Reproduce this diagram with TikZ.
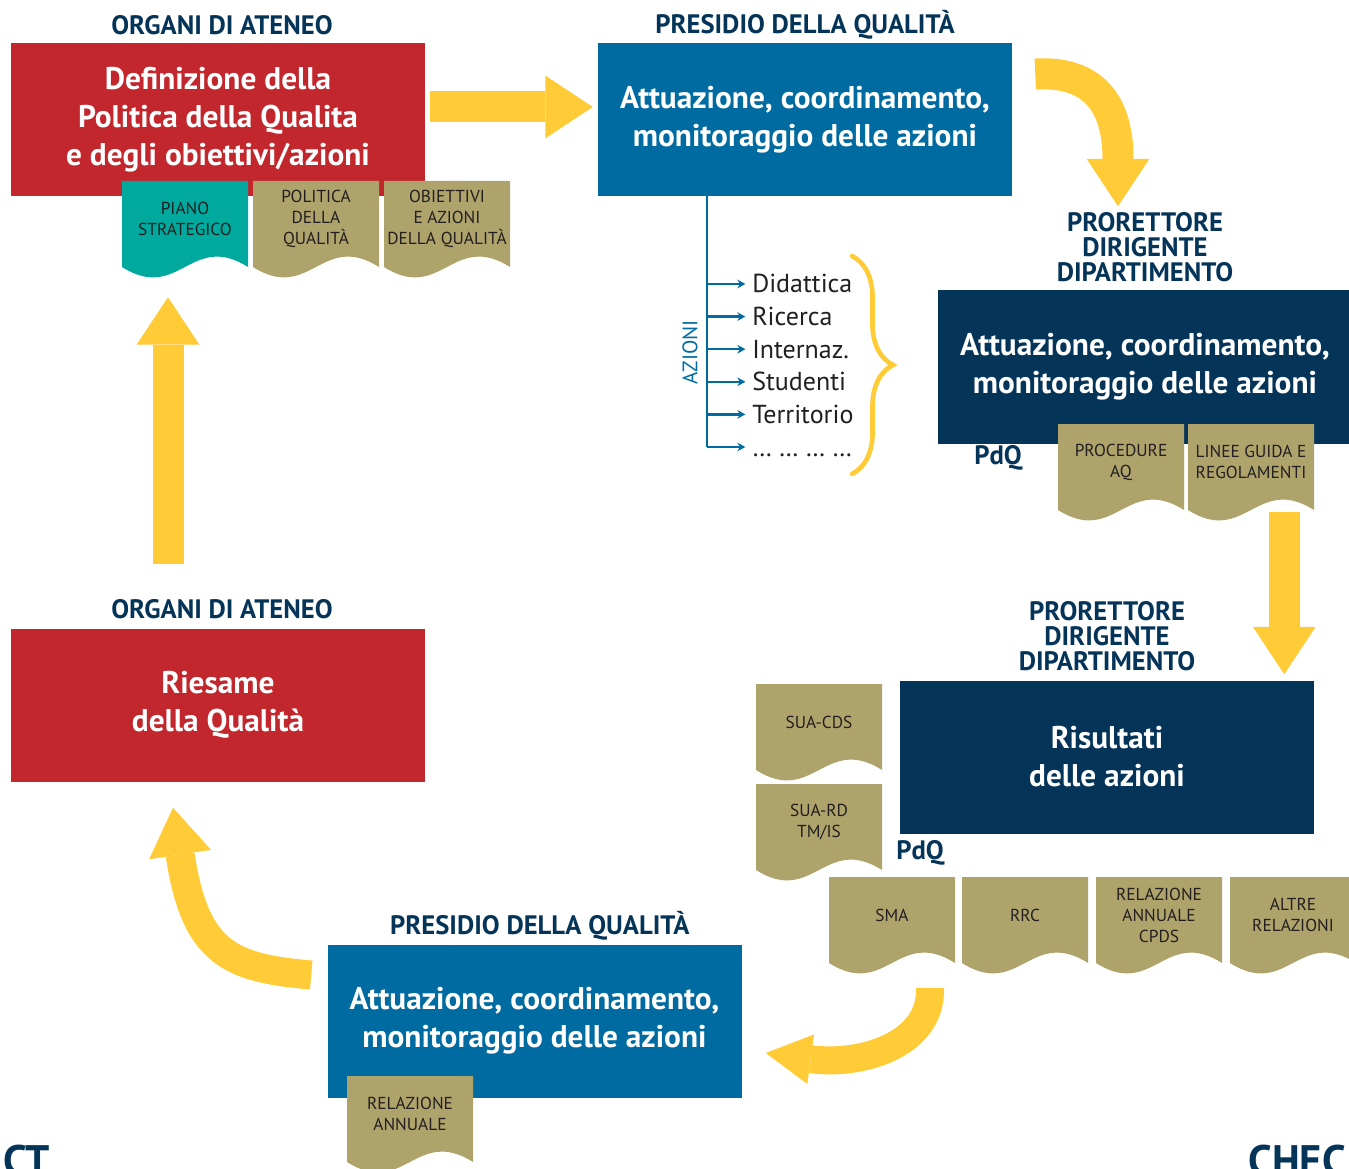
\documentclass[tikz,border=0pt]{standalone}
\usepackage{fontspec}
\setmainfont{PT Sans}
\usetikzlibrary{positioning, arrows.meta, decorations.pathreplacing}

\definecolor{aqred}{HTML}{C1272D}
\definecolor{aqblue}{HTML}{006BA0}
\definecolor{aqnavy}{HTML}{053459}
\definecolor{aqgold}{HTML}{AFA36C}
\definecolor{aqteal}{HTML}{00A99D}
\definecolor{aqyellow}{HTML}{FFCB37}
\definecolor{aqink}{HTML}{231F20}

\tikzset{
  aqbox/.style={rectangle, minimum width=310.5pt, minimum height=114.75pt, inner sep=0pt,
    text=white, align=center, font=\fontsize{23.5}{28.5}\selectfont\bfseries},
  aqhead/.style={inner sep=0pt, align=center, text=aqnavy, font=\fontsize{20}{18.75}\selectfont\bfseries},
  aqdoc/.style={inner sep=0pt, align=center, text=aqink, font=\fontsize{13}{15.75}\selectfont},
  yarrow/.style={draw=aqyellow, line width=23.25pt, -{Triangle[length=35.5pt, width=47pt, line width=0pt]}},
  yarrowsm/.style={draw=aqyellow, line width=21pt, -{Triangle[length=34pt, width=37.5pt, line width=0pt]}},
  azline/.style={draw=aqblue, line width=1.8pt},
  azlabel/.style={anchor=west, inner sep=0pt, text height=13.5pt, text depth=0pt,
    text=aqink, font=\fontsize{19.5}{24}\selectfont},
}

% document with wavy bottom: name, x, y (top left), fill, text
\newcommand{\aqdoc}[5]{%
  \fill[#4] (#2,#3) -- ({#2+126},#3) -- ({#2+126},{#3+86})
    .. controls ({#2+69},{#3+50}) and ({#2+57},{#3+122}) .. (#2,{#3+86}) -- cycle;
  \node[aqdoc] (#1) at ({#2+63},{#3+38}) {#5};
}

\begin{document}
\begin{tikzpicture}[x=0.75pt, y=-0.75pt]
  \clip (0,0) rectangle (1349,1169);

  % Plan
  \node[aqbox, fill=aqred] (def) at (218,119.5) {Definizione della\\Politica della Qualita\\e degli obiettivi/azioni};
  \node[aqhead, above=5.5pt of def, xshift=3pt] (hdef) {ORGANI DI ATENEO};
  \aqdoc{piano}{122}{181}{aqteal}{PIANO\\STRATEGICO}
  \aqdoc{politica}{253}{181}{aqgold}{POLITICA\\DELLA\\QUALITÀ}
  \aqdoc{obiettivi}{384}{181}{aqgold}{OBIETTIVI\\E AZIONI\\DELLA QUALITÀ}

  % Do (Presidio)
  \node[aqbox, fill=aqblue] (pres1) at (805,119.5) {Attuazione, coordinamento,\\monitoraggio delle azioni};
  \node[aqhead, text depth=0pt, above=6.5pt of pres1] (hpres1) {PRESIDIO DELLA QUALITÀ};

  % Azioni
  \coordinate (azroot) at ([xshift=-73.5pt]pres1.south);
  \foreach \lbl [count=\i] in {Didattica, Ricerca, Internaz., Studenti, Territorio, {… … … …}} {
    \node[azlabel] (az\i) at (752, {284+(\i-1)*32.6}) {\lbl};
  }
  \draw[azline] (azroot) -- (azroot |- az6.west);
  \foreach \i in {1,...,6}
    \draw[azline, -{Stealth[length=6pt, width=6.5pt]}] (azroot |- az\i.west) -- ([xshift=-5pt]az\i.west);
  \node[rotate=90, inner sep=0pt, text=aqblue, font=\fontsize{15.75}{18}\selectfont] (azioni) at (690,352) {AZIONI};
  \draw[aqyellow, line width=3.5pt, line cap=round, decorate, decoration={brace, amplitude=30.75pt}]
    (852,256) -- (852,474);

  % Do (Prorettore)
  \node[aqbox, fill=aqnavy] (pror1) at (1145,367) {Attuazione, coordinamento,\\monitoraggio delle azioni};
  \node[aqhead, above=6pt of pror1] (hpror1) {PRORETTORE\\DIRIGENTE\\DIPARTIMENTO};
  \node[aqhead] (pdq1) at (998,458) {PdQ};
  \aqdoc{procedure}{1058}{424}{aqgold}{PROCEDURE\\AQ}
  \aqdoc{linee}{1188}{424}{aqgold}{LINEE GUIDA E\\REGOLAMENTI}

  % Check
  \node[aqbox, fill=aqnavy] (ris) at (1107,757) {Risultati\\delle azioni};
  \node[aqhead, above=6.5pt of ris] (hris) {PRORETTORE\\DIRIGENTE\\DIPARTIMENTO};
  \node[aqhead] (pdq2) at (920,853) {PdQ};
  \aqdoc{suacds}{756}{684}{aqgold}{SUA-CDS}
  \aqdoc{suard}{756}{784}{aqgold}{SUA-RD\\TM/IS}
  \aqdoc{sma}{829}{877}{aqgold}{SMA}
  \aqdoc{rrc}{962}{877}{aqgold}{RRC}
  \aqdoc{cpds}{1096}{877}{aqgold}{RELAZIONE\\ANNUALE\\CPDS}
  \aqdoc{altre}{1230}{877}{aqgold}{ALTRE\\RELAZIONI}

  % Act
  \node[aqbox, fill=aqblue] (pres2) at (534.5,1021) {Attuazione, coordinamento,\\monitoraggio delle azioni};
  \node[aqhead, text depth=0pt, above=7pt of pres2, xshift=4pt] (hpres2) {PRESIDIO DELLA QUALITÀ};
  \aqdoc{relann}{347}{1076}{aqgold}{RELAZIONE\\ANNUALE}
  \node[aqbox, fill=aqred] (rie) at (218,705) {Riesame\\della Qualità};
  \node[aqhead, above=6.5pt of rie, xshift=3pt] (hrie) {ORGANI DI ATENEO};

  % Phase labels
  \node[anchor=base west, inner sep=0pt, text=aqnavy, font=\fontsize{32}{32}\selectfont\bfseries] (act) at (3,1175) {CT};
  \node[anchor=base west, inner sep=0pt, text=aqnavy, font=\fontsize{32}{32}\selectfont\bfseries] (check) at (1248,1175) {CHEC};

  % Cycle arrows
  \draw[yarrow] ([xshift=3.75pt, yshift=9.4pt]def.east) -- ([xshift=-3.75pt, yshift=9.4pt]pres1.west);
  \draw[yarrow] ([xshift=17.25pt, yshift=34.1pt]pres1.east) .. controls +(70,-4) and +(0,-87) .. ([xshift=-20.25pt, yshift=63pt]pror1.north);
  \draw[yarrow] ([xshift=-51pt, yshift=-51pt]pror1.south east) -- ([xshift=-22.5pt, yshift=4.5pt]ris.north east);
  \draw[yarrowsm] ([xshift=28.5pt, yshift=-54.75pt]sma.center) .. controls +(2,57) and +(95,13) .. ([xshift=18pt, yshift=-24pt]pres2.east);
  \draw[yarrow, line width=21.75pt] ([xshift=-12pt, yshift=34.5pt]pres2.west) .. controls +(-82,-7) and +(22,145) .. ([xshift=-33.75pt, yshift=-19.5pt]rie.south);
  \draw[yarrow] ([xshift=-37.5pt, yshift=48pt]rie.north) -- ([xshift=-37.5pt, yshift=-75.75pt]def.south);
\end{tikzpicture}
\end{document}
